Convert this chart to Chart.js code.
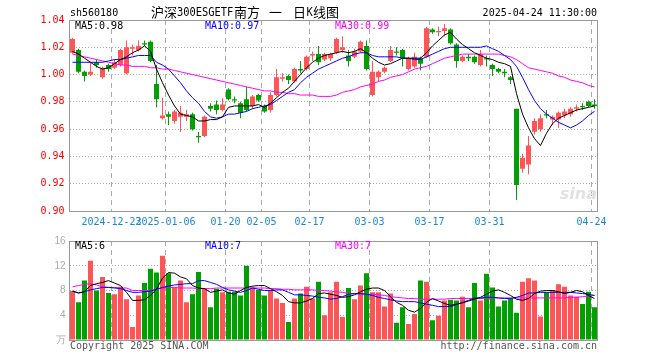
<!DOCTYPE html>
<html>
<head>
<meta charset="utf-8">
<script src="https://cdn.jsdelivr.net/npm/chart.js@4.4.1/dist/chart.umd.min.js"></script>
<style>
html, body { margin: 0; padding: 0; background: #fff; }
#wrap { position: relative; width: 660px; height: 360px; }
#wrap canvas { position: absolute; left: 0; top: 0; }
</style>
</head>
<body>
<div id="wrap">
  <canvas id="kChart" width="660" height="360"></canvas>
  <canvas id="volChart" width="660" height="360"></canvas>
</div>
<script>
// trading days shown (88)
const dates = [
    '2024-12-12', '2024-12-13', '2024-12-16', '2024-12-17', '2024-12-18', '2024-12-19', '2024-12-20', '2024-12-23', '2024-12-24', '2024-12-25',
    '2024-12-26', '2024-12-27', '2024-12-30', '2024-12-31', '2025-01-02', '2025-01-03', '2025-01-06', '2025-01-07', '2025-01-08', '2025-01-09',
    '2025-01-10', '2025-01-13', '2025-01-14', '2025-01-15', '2025-01-16', '2025-01-17', '2025-01-20', '2025-01-21', '2025-01-22', '2025-01-23',
    '2025-01-24', '2025-01-27', '2025-02-05', '2025-02-06', '2025-02-07', '2025-02-10', '2025-02-11', '2025-02-12', '2025-02-13', '2025-02-14',
    '2025-02-17', '2025-02-18', '2025-02-19', '2025-02-20', '2025-02-21', '2025-02-24', '2025-02-25', '2025-02-26', '2025-02-27', '2025-02-28',
    '2025-03-03', '2025-03-04', '2025-03-05', '2025-03-06', '2025-03-07', '2025-03-10', '2025-03-11', '2025-03-12', '2025-03-13', '2025-03-14',
    '2025-03-17', '2025-03-18', '2025-03-19', '2025-03-20', '2025-03-21', '2025-03-24', '2025-03-25', '2025-03-26', '2025-03-27', '2025-03-28',
    '2025-03-31', '2025-04-01', '2025-04-02', '2025-04-03', '2025-04-07', '2025-04-08', '2025-04-09', '2025-04-10', '2025-04-11', '2025-04-14',
    '2025-04-15', '2025-04-16', '2025-04-17', '2025-04-18', '2025-04-21', '2025-04-22', '2025-04-23', '2025-04-24'
];

const openP = [
    1.016, 1.018, 1.002, 1.000, 1.009, 0.998, 1.007, 1.005, 1.007, 1.001,
    1.019, 1.018, 1.023, 1.024, 0.993, 0.968, 0.971, 0.966, 0.969, 0.969,
    0.971, 0.955, 0.955, 0.977, 0.978, 0.974, 0.989, 0.982, 0.979, 0.982,
    0.977, 0.985, 0.977, 0.974, 0.985, 0.997, 0.999, 0.995, 1.004, 1.004,
    1.014, 1.015, 1.011, 1.012, 1.016, 1.018, 1.014, 1.013, 1.017, 1.021,
    0.985, 0.998, 1.002, 1.010, 1.017, 1.018, 1.004, 1.006, 1.012, 1.013,
    1.033, 1.031, 1.032, 1.033, 1.022, 1.010, 1.013, 1.013, 1.007, 1.012,
    1.007, 1.004, 1.002, 0.998, 0.975, 0.931, 0.934, 0.958, 0.960, 0.971,
    0.967, 0.967, 0.970, 0.971, 0.975, 0.977, 0.980, 0.978
];
const highP = [
    1.027, 1.019, 1.003, 1.009, 1.011, 1.006, 1.008, 1.011, 1.019, 1.025,
    1.022, 1.025, 1.025, 1.025, 1.007, 0.983, 0.973, 0.974, 0.977, 0.974,
    0.972, 0.958, 0.970, 0.979, 0.981, 0.983, 0.990, 0.984, 0.980, 0.991,
    0.985, 0.986, 0.978, 0.987, 1.004, 1.001, 1.000, 1.005, 1.010, 1.014,
    1.017, 1.021, 1.016, 1.016, 1.027, 1.028, 1.018, 1.019, 1.025, 1.025,
    1.010, 1.003, 1.006, 1.021, 1.020, 1.019, 1.013, 1.016, 1.013, 1.035,
    1.034, 1.035, 1.037, 1.034, 1.023, 1.014, 1.015, 1.014, 1.018, 1.014,
    1.008, 1.005, 1.004, 0.999, 0.975, 0.942, 0.955, 0.968, 0.971, 0.974,
    0.970, 0.973, 0.975, 0.976, 0.978, 0.979, 0.981, 0.982
];
const lowP = [
    1.015, 1.001, 0.995, 0.999, 1.005, 0.997, 1.002, 1.004, 1.006, 1.000,
    1.014, 1.017, 1.021, 1.009, 0.976, 0.967, 0.963, 0.964, 0.958, 0.966,
    0.959, 0.950, 0.954, 0.973, 0.971, 0.973, 0.981, 0.979, 0.968, 0.973,
    0.975, 0.980, 0.972, 0.972, 0.984, 0.995, 0.993, 0.994, 1.001, 1.003,
    1.010, 1.007, 1.010, 1.010, 1.015, 1.016, 1.006, 1.012, 1.016, 1.003,
    0.984, 0.995, 1.001, 1.009, 1.014, 1.006, 1.003, 1.005, 1.003, 1.012,
    1.030, 1.028, 1.028, 1.022, 1.005, 1.009, 1.010, 1.008, 1.006, 1.006,
    0.999, 1.001, 0.998, 0.993, 0.908, 0.928, 0.927, 0.956, 0.958, 0.968,
    0.963, 0.961, 0.968, 0.969, 0.973, 0.974, 0.976, 0.975
];
const closeP = [
    1.026, 1.002, 0.999, 1.002, 1.007, 1.005, 1.004, 1.009, 1.018, 1.020,
    1.020, 1.021, 1.022, 1.010, 0.982, 0.970, 0.969, 0.973, 0.972, 0.971,
    0.960, 0.954, 0.969, 0.975, 0.974, 0.978, 0.982, 0.981, 0.972, 0.974,
    0.984, 0.981, 0.973, 0.985, 0.998, 0.998, 0.996, 1.004, 1.003, 1.013,
    1.015, 1.009, 1.015, 1.015, 1.026, 1.020, 1.010, 1.017, 1.024, 1.004,
    1.002, 1.002, 1.005, 1.018, 1.016, 1.012, 1.012, 1.013, 1.008, 1.034,
    1.031, 1.032, 1.034, 1.023, 1.010, 1.013, 1.012, 1.009, 1.015, 1.011,
    1.004, 1.002, 1.001, 0.996, 0.919, 0.939, 0.948, 0.966, 0.968, 0.970,
    0.969, 0.972, 0.973, 0.975, 0.976, 0.976, 0.977, 0.977
];

// moving averages as drawn on the chart
const ma5 = [
    1.017, 1.015, 1.012, 1.009, 1.006, 1.004, 1.005, 1.008, 1.011, 1.013,
    1.016, 1.018, 1.021, 1.017, 1.004, 0.994, 0.985, 0.977, 0.971, 0.970,
    0.969, 0.966, 0.966, 0.967, 0.967, 0.969, 0.976, 0.977, 0.977, 0.977,
    0.977, 0.978, 0.976, 0.979, 0.983, 0.987, 0.990, 0.995, 1.000, 1.005,
    1.009, 1.012, 1.014, 1.015, 1.016, 1.017, 1.016, 1.017, 1.019, 1.016,
    1.012, 1.009, 1.007, 1.008, 1.010, 1.012, 1.012, 1.012, 1.012, 1.016,
    1.021, 1.025, 1.029, 1.031, 1.026, 1.022, 1.019, 1.016, 1.014, 1.012,
    1.011, 1.009, 1.008, 1.006, 0.986, 0.971, 0.961, 0.953, 0.948, 0.957,
    0.964, 0.968, 0.970, 0.972, 0.974, 0.975, 0.976, 0.977
];
const ma10 = [
    1.009, 1.009, 1.009, 1.009, 1.009, 1.009, 1.010, 1.011, 1.011, 1.012,
    1.013, 1.014, 1.014, 1.014, 1.009, 1.007, 1.004, 0.999, 0.994, 0.988,
    0.983, 0.979, 0.973, 0.969, 0.968, 0.969, 0.971, 0.971, 0.972, 0.973,
    0.975, 0.976, 0.977, 0.978, 0.981, 0.984, 0.987, 0.989, 0.994, 0.998,
    1.001, 1.004, 1.006, 1.008, 1.010, 1.012, 1.013, 1.015, 1.016, 1.016,
    1.014, 1.013, 1.013, 1.013, 1.013, 1.012, 1.012, 1.011, 1.011, 1.013,
    1.015, 1.017, 1.019, 1.020, 1.020, 1.020, 1.020, 1.020, 1.020, 1.021,
    1.019, 1.017, 1.014, 1.011, 1.006, 0.998, 0.989, 0.981, 0.975, 0.971,
    0.968, 0.965, 0.963, 0.961, 0.963, 0.966, 0.970, 0.973
];
const ma30 = [
    1.015, 1.014, 1.013, 1.012, 1.011, 1.010, 1.009, 1.008, 1.007, 1.007,
    1.006, 1.006, 1.006, 1.005, 1.005, 1.004, 1.004, 1.003, 1.002, 1.001,
    1.000, 0.999, 0.998, 0.997, 0.996, 0.995, 0.994, 0.993, 0.992, 0.991,
    0.990, 0.989, 0.988, 0.988, 0.987, 0.987, 0.986, 0.986, 0.985, 0.985,
    0.985, 0.984, 0.984, 0.984, 0.985, 0.987, 0.988, 0.989, 0.991, 0.992,
    0.993, 0.995, 0.996, 0.998, 0.999, 1.000, 1.002, 1.004, 1.005, 1.006,
    1.008, 1.010, 1.012, 1.013, 1.014, 1.015, 1.015, 1.015, 1.015, 1.015,
    1.015, 1.015, 1.014, 1.013, 1.011, 1.008, 1.005, 1.004, 1.003, 1.002,
    1.001, 0.999, 0.998, 0.996, 0.995, 0.994, 0.992, 0.991
];

// volume, 万
const volume = [
    7.9, 6.1, 9.6, 12.8, 8.0, 10.2, 7.6, 7.4, 8.6, 6.6,
    2.1, 7.2, 9.2, 11.5, 10.9, 13.6, 10.8, 8.5, 9.6, 6.1,
    7.4, 11.0, 8.4, 5.3, 8.3, 7.7, 7.8, 7.8, 7.2, 12.0,
    8.5, 8.1, 7.2, 8.1, 6.7, 6.0, 2.9, 6.7, 7.5, 8.6,
    6.7, 9.4, 4.0, 7.7, 9.4, 3.7, 8.4, 6.6, 8.8, 10.8,
    7.7, 7.7, 5.4, 7.5, 2.8, 5.3, 2.6, 4.2, 9.6, 9.4,
    3.2, 3.9, 6.4, 6.5, 6.4, 7.0, 5.3, 9.2, 6.4, 10.7,
    8.5, 5.4, 6.4, 6.7, 4.4, 9.4, 10.0, 9.6, 3.8, 7.7,
    8.1, 9.0, 8.6, 7.2, 7.0, 5.8, 7.8, 5.3
];
const volMa5 = [
    7.9, 7.6, 7.8, 8.8, 9.1, 9.3, 9.6, 9.2, 8.8, 7.7,
    6.4, 6.4, 6.5, 7.2, 8.2, 10.0, 10.9, 10.8, 10.2, 9.9,
    8.8, 8.4, 8.3, 7.7, 7.9, 8.1, 7.6, 7.4, 8.0, 8.5,
    8.7, 8.8, 8.8, 8.3, 7.8, 7.2, 6.2, 6.0, 6.0, 6.3,
    6.7, 7.5, 7.6, 7.4, 7.2, 6.9, 7.0, 7.3, 7.8, 8.2,
    8.4, 8.4, 8.0, 7.0, 6.1, 5.6, 4.8, 4.5, 5.1, 6.1,
    6.7, 6.3, 5.9, 5.6, 5.8, 6.0, 6.3, 6.6, 6.9, 7.4,
    7.9, 8.1, 7.7, 7.2, 6.6, 6.4, 6.7, 7.5, 7.9, 8.0,
    8.0, 7.8, 7.5, 7.7, 8.0, 7.8, 7.2, 6.7
];
const volMa10 = [
    7.9, 7.6, 7.8, 8.1, 8.3, 8.5, 8.5, 8.4, 8.3, 8.0,
    7.7, 7.7, 7.8, 7.9, 8.2, 8.5, 8.7, 8.9, 9.0, 9.1,
    9.1, 9.6, 9.6, 9.3, 9.0, 8.5, 8.1, 7.9, 7.7, 8.0,
    8.4, 8.2, 8.0, 8.0, 8.1, 8.1, 7.7, 7.3, 7.3, 7.2,
    7.1, 6.9, 6.8, 6.6, 6.7, 7.0, 7.4, 7.5, 7.5, 7.4,
    7.2, 6.9, 6.7, 6.5, 6.3, 6.2, 6.2, 6.2, 6.0, 5.8,
    5.6, 5.4, 5.4, 5.4, 5.7, 6.1, 6.4, 6.8, 6.8, 6.9,
    6.9, 6.8, 6.7, 6.7, 6.9, 7.2, 7.6, 7.6, 7.7, 7.7,
    7.7, 7.7, 7.7, 7.7, 7.6, 7.5, 7.4, 7.2
];
const volMa30 = [
    8.6, 8.8, 9.0, 9.1, 8.9, 8.6, 8.5, 8.5, 8.4, 8.4,
    8.0, 8.0, 8.0, 8.0, 8.2, 8.4, 8.5, 8.5, 8.4, 8.4,
    8.4, 8.3, 8.3, 8.3, 8.4, 8.4, 8.4, 8.4, 8.4, 8.4,
    8.4, 8.4, 8.4, 8.3, 8.3, 8.2, 8.2, 8.1, 8.1, 8.1,
    8.1, 8.0, 8.0, 7.9, 7.8, 7.7, 7.5, 7.5, 7.4, 7.4,
    7.4, 7.3, 7.2, 7.0, 6.9, 6.8, 6.7, 6.7, 6.6, 6.6,
    6.6, 6.6, 6.6, 6.7, 6.7, 6.7, 6.7, 6.7, 6.7, 6.8,
    6.8, 6.8, 6.8, 6.8, 6.8, 6.8, 6.8, 6.8, 6.8, 6.8,
    6.8, 6.8, 6.8, 6.9, 6.9, 7.0, 7.1, 7.2
];

// axis ticks
const tickIdx = [7, 16, 26, 32, 40, 50, 60, 70, 87];
const tickText = ['2024-12-23', '2025-01-06', '01-20', '02-05', '02-17', '03-03', '03-17', '03-31', '04-24'];
const priceTicks = [0.90, 0.92, 0.94, 0.96, 0.98, 1.00, 1.02, 1.04];
const volTicks = [0, 4, 8, 12, 16];

const UP = '#ff5555';
const DOWN = '#00a000';
const FRAME = '#999999';
const GRID = '#aaaaaa';
const MONO = '"DejaVu Sans Mono", monospace';
const CJK = '"Noto Sans CJK SC", sans-serif';

Chart.defaults.font.family = MONO;
Chart.defaults.font.size = 10;
Chart.defaults.animation = false;

const barColors = closeP.map((c, i) => (c >= openP[i] ? UP : DOWN));

const framePlugin = {
    id: 'frame',
    afterDraw(chart) {
        const { ctx, chartArea: a } = chart;
        ctx.save();
        ctx.strokeStyle = FRAME;
        ctx.lineWidth = 1;
        ctx.strokeRect(Math.floor(a.left) + 0.5, Math.floor(a.top) + 0.5,
            Math.round(a.right - a.left), Math.round(a.bottom - a.top));
        ctx.restore();
    }
};

function maLine(label, data, color) {
    return {
        type: 'line', label: label, data: data,
        borderColor: color, borderWidth: 1,
        pointRadius: 0, fill: false, tension: 0, order: 0
    };
}

function xScale(showLabels) {
    return {
        type: 'category',
        offset: true,
        afterFit: s => { s.height = showLabels ? 20 : 0; },
        grid: {
            offset: true,
            drawTicks: false,
            color: c => (tickIdx.includes(c.index) ? GRID : 'transparent')
        },
        border: { display: true, color: FRAME, dash: [5, 4] },
        ticks: {
            display: showLabels,
            autoSkip: false,
            maxRotation: 0,
            minRotation: 0,
            padding: 5,
            labelOffset: -3,
            color: '#1a88d8',
            callback: (v, i) => {
                const k = tickIdx.indexOf(i);
                return k < 0 ? '' : tickText[k];
            }
        }
    };
}

// ---- price chart ----
const textPlugin = {
    id: 'headText',
    beforeDatasetsDraw(chart) {
        const ctx = chart.ctx;
        ctx.save();
        ctx.fillStyle = '#e2e2e2';
        ctx.font = 'italic bold 16px "DejaVu Sans", sans-serif';
        ctx.textAlign = 'right';
        ctx.textBaseline = 'middle';
        ctx.fillText('sina', 597, 195);
        ctx.restore();
    },
    afterDraw(chart) {
        const ctx = chart.ctx;
        ctx.save();
        ctx.textBaseline = 'middle';
        ctx.textAlign = 'left';
        ctx.fillStyle = '#000';
        ctx.font = '10px ' + MONO;
        ctx.fillText('sh560180', 70, 13);

        // title: [text, x, font, horizontal squeeze]
        const parts = [
            ['沪深', 151, '13px ' + CJK, 1],
            ['300ESGETF', 177, '13px ' + MONO, 0.8],
            ['南方', 234, '13px ' + CJK, 1],
            ['一', 269, '13px ' + CJK, 1],
            ['日', 293, '13px ' + CJK, 1],
            ['K', 306.5, '13px ' + MONO, 0.8],
            ['线图', 313, '13px ' + CJK, 1]
        ];
        parts.forEach(p => {
            ctx.save();
            ctx.font = p[2];
            ctx.translate(p[1], 12.5);
            ctx.scale(p[3], 1);
            ctx.fillText(p[0], 0, 0);
            ctx.restore();
        });

        ctx.font = '10px ' + MONO;
        ctx.textAlign = 'right';
        ctx.fillText('2025-04-24 11:30:00', 597, 13);

        ctx.textAlign = 'left';
        ctx.fillStyle = '#000';
        ctx.fillText('MA5:0.98', 75, 26);
        ctx.fillStyle = '#0000ff';
        ctx.fillText('MA10:0.97', 205, 26);
        ctx.fillStyle = '#ff00ff';
        ctx.fillText('MA30:0.99', 335, 26);
        ctx.restore();
    }
};

const kCtx = document.getElementById('kChart').getContext('2d');
new Chart(kCtx, {
    type: 'bar',
    data: {
        labels: dates,
        datasets: [
            maLine('MA5', ma5, '#000000'),
            maLine('MA10', ma10, '#0000ff'),
            maLine('MA30', ma30, '#ff00ff'),
            {
                label: 'body',
                data: openP.map((o, i) => [o, closeP[i]]),
                backgroundColor: barColors,
                barThickness: 5,
                grouped: false,
                inflateAmount: 0,
                order: 1
            },
            {
                label: 'wick',
                data: lowP.map((l, i) => [l, highP[i]]),
                backgroundColor: barColors,
                barThickness: 1,
                grouped: false,
                inflateAmount: 0,
                order: 2
            }
        ]
    },
    options: {
        responsive: false,
        events: [],
        layout: { padding: { left: 0, top: 20, right: 62.5, bottom: 129 } },
        plugins: { legend: { display: false }, tooltip: { enabled: false } },
        scales: {
            x: xScale(true),
            y: {
                min: 0.90,
                max: 1.04,
                afterFit: s => { s.width = 69.5; },
                afterBuildTicks: s => { s.ticks = priceTicks.map(v => ({ value: v })); },
                grid: {
                    drawTicks: false,
                    color: c => (c.tick && c.tick.value > 0.905 && c.tick.value < 1.035 ? GRID : 'transparent')
                },
                border: { color: FRAME, dash: [1, 2] },
                ticks: { color: '#ff0000', padding: 5, callback: v => v.toFixed(2) }
            }
        }
    },
    plugins: [framePlugin, textPlugin]
});

// ---- volume chart ----
const volTextPlugin = {
    id: 'volText',
    afterDraw(chart) {
        const ctx = chart.ctx;
        ctx.save();
        ctx.textBaseline = 'middle';
        ctx.textAlign = 'left';
        ctx.font = '10px ' + MONO;
        ctx.fillStyle = '#000';
        ctx.fillText('MA5:6', 75, 246.5);
        ctx.fillStyle = '#0000ff';
        ctx.fillText('MA10:7', 205, 246.5);
        ctx.fillStyle = '#ff00ff';
        ctx.fillText('MA30:7', 335, 246.5);

        ctx.fillStyle = '#555555';
        ctx.fillText('Copyright 2025 SINA.COM', 70, 346);
        ctx.textAlign = 'right';
        ctx.fillText('http://finance.sina.com.cn', 597, 346);
        ctx.restore();
    }
};

const volCtx = document.getElementById('volChart').getContext('2d');
new Chart(volCtx, {
    type: 'bar',
    data: {
        labels: dates,
        datasets: [
            maLine('MA5', volMa5, '#000000'),
            maLine('MA10', volMa10, '#0000ff'),
            maLine('MA30', volMa30, '#ff00ff'),
            {
                label: 'volume',
                data: volume,
                backgroundColor: barColors,
                barThickness: 5,
                inflateAmount: 0,
                order: 1
            }
        ]
    },
    options: {
        responsive: false,
        events: [],
        layout: { padding: { left: 0, top: 241, right: 62.5, bottom: 20 } },
        plugins: { legend: { display: false }, tooltip: { enabled: false } },
        scales: {
            x: xScale(false),
            y: {
                min: 0,
                max: 16,
                afterFit: s => { s.width = 69.5; },
                afterBuildTicks: s => { s.ticks = volTicks.map(v => ({ value: v })); },
                grid: {
                    drawTicks: false,
                    color: c => (c.tick && c.tick.value > 0 && c.tick.value < 16 ? GRID : 'transparent')
                },
                border: { color: FRAME, dash: [1, 2] },
                ticks: {
                    color: '#aaaaaa',
                    padding: 4,
                    font: { family: '"Liberation Sans", sans-serif', size: 10 },
                    callback: v => (v === 0 ? '万' : String(v))
                }
            }
        }
    },
    plugins: [framePlugin, volTextPlugin]
});
</script>
</body>
</html>
